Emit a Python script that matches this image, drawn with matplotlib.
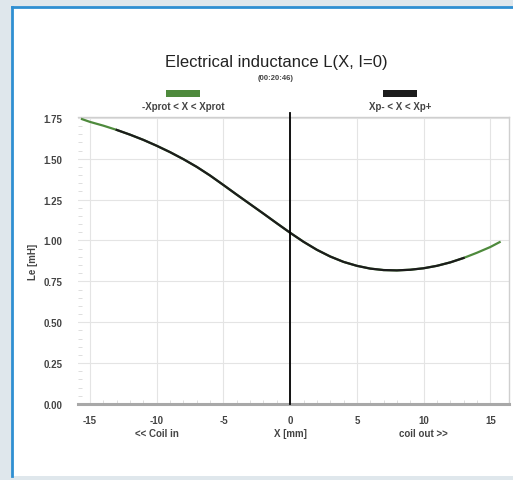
import numpy as np
import matplotlib.pyplot as plt
from matplotlib.patches import Rectangle
from matplotlib.lines import Line2D
from matplotlib.transforms import blended_transform_factory

plt.rcParams['font.family'] = ['Liberation Sans', 'DejaVu Sans']

# values
x_mm = [-15.6, -15, -14, -13, -12, -11, -10, -9, -8, -7, -6, -5, -4, -3, -2, -1,
        0, 1, 2, 3, 4, 5, 6, 7, 8, 9, 10, 11, 12, 13, 14, 15, 15.7]
le_mh = [1.742, 1.725, 1.702, 1.676, 1.647, 1.615, 1.579, 1.54, 1.497, 1.45, 1.397,
         1.339, 1.28, 1.222, 1.164, 1.105, 1.047, 0.992, 0.943, 0.902, 0.869, 0.845,
         0.828, 0.819, 0.817, 0.821, 0.83, 0.845, 0.866, 0.893, 0.925, 0.96, 0.99]
xp_minus, xp_plus = -13, 13

x_ticks = [-15, -10, -5, 0, 5, 10, 15]
y_ticks = [0, 0.25, 0.5, 0.75, 1.0, 1.25, 1.5, 1.75]

title = 'Electrical inductance L(X, I=0)'
subtitle = '(00:20:46)'
legend_labels = ['-Xprot < X < Xprot', 'Xp- < X < Xp+']

green = '#4e8a3c'
black = '#1c1c1c'
text_col = '#444444'
small = dict(fontsize=7, color=text_col, fontweight='bold')

W, H = 513, 481
fig = plt.figure(figsize=(W / 100, H / 100), dpi=100, facecolor='#dfe7ec')

# white panel with blue border on top and left
fig.patches.append(Rectangle((12 / W, 4 / H), 1, 1 - 12 / H, transform=fig.transFigure,
                             facecolor='white', edgecolor='none', zorder=-2))
fig.lines.append(Line2D([12 / W, 12 / W], [4 / H, 1 - 8 / H], transform=fig.transFigure,
                        color='#2f8fd2', lw=2, zorder=-1))
fig.lines.append(Line2D([12 / W, 1], [1 - 8 / H, 1 - 8 / H], transform=fig.transFigure,
                        color='#2f8fd2', lw=2, zorder=-1))

ax = fig.add_axes([78 / W, 1 - 405 / H, (509 - 78) / W, (405 - 118) / H])
ax.set_zorder(1)
ax.set_facecolor('white')

x = np.array(x_mm)
y = np.array(le_mh)
ax.plot(x, y, color=green, lw=1.6, zorder=3)
inner = (x >= xp_minus) & (x <= xp_plus)
ax.plot(x[inner], y[inner], color=black, lw=1.6, zorder=4)

ax.axvline(0, color='black', lw=1.3, ymax=1.015, clip_on=False, zorder=5)

ax.set_xlim(-15.9, 16.4)
ax.set_ylim(0, 1.755)
ax.set_xticks(x_ticks)
ax.set_xticklabels([str(t) for t in x_ticks], **small)
ax.set_yticks(y_ticks)
ax.set_yticklabels([f'{t:.2f}' for t in y_ticks], **small)
ax.set_xticks(np.arange(-15, 16, 1), minor=True)
ax.set_yticks(np.arange(0, 1.75, 0.05), minor=True)

ax.grid(True, which='major', color='#e4e4e4', lw=0.8)
ax.tick_params(which='major', length=0)
ax.tick_params(axis='x', which='major', pad=8)
ax.tick_params(axis='y', which='major', pad=11)
ax.tick_params(which='minor', direction='in', length=3, color='#d8d8d8', width=0.6)

for s in ['top', 'right']:
    ax.spines[s].set_color('#cfcfcf')
    ax.spines[s].set_linewidth(1.0)
ax.spines['left'].set_visible(False)
ax.spines['bottom'].set_color('#a8a8a8')
ax.spines['bottom'].set_linewidth(2.2)

ax.set_ylabel('Le [mH]', labelpad=4, **small)

tr = blended_transform_factory(ax.transData, fig.transFigure)
ax.text(-10, 1 - 434 / H, '<< Coil in', transform=tr, ha='center', va='center', **small)
ax.text(0, 1 - 434 / H, 'X [mm]', transform=tr, ha='center', va='center', **small)
ax.text(10, 1 - 434 / H, 'coil out >>', transform=tr, ha='center', va='center', **small)

fig.text(276 / W, 1 - 63 / H, title, ha='center', va='center', fontsize=12, color='#222222')
fig.text(276 / W, 1 - 79 / H, subtitle, ha='center', va='center', fontsize=5.5,
         color=text_col, fontweight='bold')

# legend: coloured bars with labels beneath
for cx, col, lab in [(183, green, legend_labels[0]), (400, black, legend_labels[1])]:
    fig.patches.append(Rectangle(((cx - 17) / W, 1 - 98 / H), 34 / W, 7 / H,
                                 transform=fig.transFigure, facecolor=col, edgecolor='none'))
    fig.text(cx / W, 1 - 107 / H, lab, ha='center', va='center', **small)

fig.savefig('out.png', dpi=100, facecolor=fig.get_facecolor())
